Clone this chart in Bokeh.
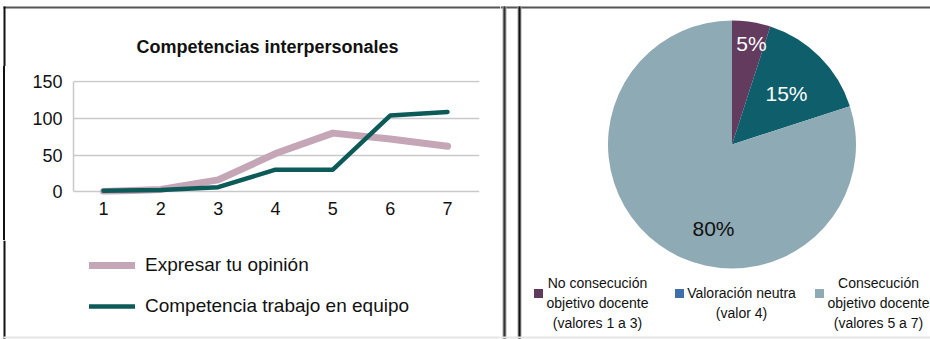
import math
from bokeh.plotting import figure
from bokeh.models import Range1d, FixedTicker, Legend, LegendItem, GridBox
from bokeh.core.properties import value
from bokeh.embed import file_html
from bokeh.resources import INLINE

# ---------------- data ----------------
steps = [1, 2, 3, 4, 5, 6, 7]
opinion = [0, 3, 16, 52, 80, 72, 62]
equipo = [1, 2, 6, 30, 30, 104, 109]
y_ticks = [0, 50, 100, 150]
series_names = ["Expresar tu opinión", "Competencia trabajo en equipo"]
chart_title = "Competencias interpersonales"

pie_values = [5, 15, 80]
pie_labels = ["5%", "15%", "80%"]
legend_texts = ["No consecución\nobjetivo docente\n(valores 1 a 3)",
                "Valoración neutra\n(valor 4)",
                "Consecución\nobjetivo docente\n(valores 5 a 7)"]

# ---------------- styles ----------------
FONT = "Liberation Sans"
slice_colors = ["#623b5f", "#0e5e6b", "#8eaab4"]
swatch_colors = ["#603a5d", "#3f70aa", "#8eaab4"]
label_colors = ["white", "white", "#111111"]
series_colors = ["#c5a6b7", "#0c5b59"]
series_widths = [7, 4.5]
H = 339
LW = 500          # width of left panel
TH = 66           # height of top strip of left panel
MY1 = 240         # bottom of chart strip
MH = MY1 - TH
BORDER_CSS = ("linear-gradient(to right, white 0px, white 3px, #111111 3px, "
              "#111111 5px, white 5px, white 100%)")


def canvas_fig(w, h):
    f = figure(width=w, height=h, x_range=Range1d(0, w), y_range=Range1d(0, h),
               x_axis_type=None, y_axis_type=None, min_border=0,
               output_backend="svg", toolbar_location=None, frame_align=False)
    f.outline_line_color = None
    f.grid.visible = False
    f.background_fill_color = "white"
    f.border_fill_color = "white"
    return f


def hbox(f, h, x0, x1, y0, y1, color):
    # box given in pixel coords with y measured downward from the figure top
    f.quad(left=[x0], right=[x1], top=[h - y0], bottom=[h - y1],
           color=color, line_color=None)


# ---------------- top strip (title) ----------------
top = canvas_fig(LW, TH)
hbox(top, TH, 3, LW, 6, 8, "#555555")
hbox(top, TH, 3, 5, 6, TH, "#111111")
top.text(x=[267], y=[TH - 46], text=[chart_title], text_align="center",
         text_baseline="middle", text_font=value(FONT), text_font_size="18px",
         text_font_style="bold", text_color="#111111")

# ---------------- line chart ----------------
FL, FR, FT, FB = 73, 479, 80 - TH, 194 - TH
px_per = (447 - 103) / 6.0
p1 = figure(width=LW, height=MH, output_backend="svg", toolbar_location=None,
            x_range=Range1d(1 - (103 - 73) / px_per, 7 + (479 - 447) / px_per),
            y_range=Range1d(-4, 152), frame_align=False,
            min_border_left=FL, min_border_right=LW - FR,
            min_border_top=FT, min_border_bottom=MH - FB,
            styles={"background": BORDER_CSS})
p1.border_fill_alpha = 0
p1.background_fill_color = "white"
p1.outline_line_color = None
p1.xgrid.visible = False
p1.ygrid.ticker = FixedTicker(ticks=y_ticks)
p1.ygrid.grid_line_color = "#c9c9c9"
p1.ygrid.grid_line_width = 1.5

p1.yaxis.ticker = FixedTicker(ticks=y_ticks)
p1.yaxis.bounds = (0, 150)
p1.yaxis.axis_line_color = "#c9c9c9"
p1.yaxis.axis_line_width = 1.5
p1.yaxis.major_tick_in = 0
p1.yaxis.major_tick_out = 0
p1.yaxis.minor_tick_line_color = None
p1.yaxis.major_label_standoff = 11
p1.yaxis.major_label_text_font = FONT
p1.yaxis.major_label_text_font_size = "18px"
p1.yaxis.major_label_text_color = "#111111"

p1.xaxis.ticker = FixedTicker(ticks=steps)
p1.xaxis.axis_line_color = None
p1.xaxis.major_tick_in = 0
p1.xaxis.major_tick_out = 0
p1.xaxis.minor_tick_line_color = None
p1.xaxis.major_label_standoff = 7
p1.xaxis.major_label_text_font = FONT
p1.xaxis.major_label_text_font_size = "18px"
p1.xaxis.major_label_text_color = "#111111"

p1.line(steps, opinion, line_width=series_widths[0], color=series_colors[0],
        line_join="round", line_cap="round")
p1.line(steps, equipo, line_width=series_widths[1], color=series_colors[1],
        line_join="round", line_cap="round")

# ---------------- bottom strip (legend) ----------------
BH = H - MY1
bot = canvas_fig(LW, BH)
hbox(bot, BH, 3, 5, 0, BH, "#111111")
hbox(bot, BH, 3, LW, BH - 3, BH - 1, "#e6e6e6")
items = []
for name, col, lw in zip(series_names, series_colors, series_widths):
    # proxy renderer placed outside the visible range, only used for the legend swatch
    r = bot.line(x=[-60, -50], y=[-60, -60], line_width=lw, color=col, line_cap="round")
    items.append(LegendItem(label=name, renderers=[r]))
legend = Legend(items=items, location=(89, BH - (317 - MY1)), orientation="vertical",
                glyph_width=46, glyph_height=20, label_height=20, spacing=19,
                padding=0, margin=0, label_standoff=10,
                border_line_color=None, background_fill_alpha=0,
                label_text_font=FONT, label_text_font_size="19px",
                label_text_color="#111111")
bot.add_layout(legend)

# ---------------- right: pie chart ----------------
RW = 930 - LW
p2 = canvas_fig(RW, H)
hbox(p2, H, 0, RW, 6, 8, "#555555")
hbox(p2, H, 2, 6, 6, H, "#aaaaaa")
hbox(p2, H, 3, 5, 6, H, "#333333")
hbox(p2, H, 17, 21, 6, H, "#aaaaaa")
hbox(p2, H, 18, 20, 6, H, "#111111")
hbox(p2, H, 0, RW, H - 3, H - 1, "#e6e6e6")

cx, cy, rad = 731.5 - LW, H - 144, 124
total = float(sum(pie_values))
cum = [0.0]
for v in pie_values:
    cum.append(cum[-1] + v)
starts = [math.pi / 2 - 2 * math.pi * cum[i] / total for i in range(len(pie_values))]
ends = [math.pi / 2 - 2 * math.pi * cum[i + 1] / total for i in range(len(pie_values))]
p2.wedge(x=[cx] * len(pie_values), y=[cy] * len(pie_values), radius=rad,
         start_angle=starts, end_angle=ends, direction="clock",
         fill_color=slice_colors, line_color=None)

label_offsets = [(19.5, 101), (54.5, 51), (-18.5, -84)]
p2.text(x=[cx + d[0] for d in label_offsets], y=[cy + d[1] for d in label_offsets],
        text=pie_labels, text_color=label_colors, text_align="center",
        text_baseline="middle", text_font=value(FONT), text_font_size="21px")

sw_x = [538 - LW, 679 - LW, 819 - LW]
txt_x = [597 - LW, 741 - LW, 878 - LW]
p2.scatter(x=sw_x, y=[H - 293] * 3, marker="square", size=9,
           fill_color=swatch_colors, line_color=None)
p2.text(x=txt_x, y=[H - 302] * 3, text=legend_texts, text_align="center",
        text_baseline="middle", text_font=value(FONT), text_font_size="14px",
        text_line_height=1.25, text_color="#111111")

layout = GridBox(children=[(top, 0, 0), (p1, 1, 0), (bot, 2, 0), (p2, 0, 1, 3, 1)],
                 spacing=0)
open("out.html", "w").write(file_html(layout, INLINE))
